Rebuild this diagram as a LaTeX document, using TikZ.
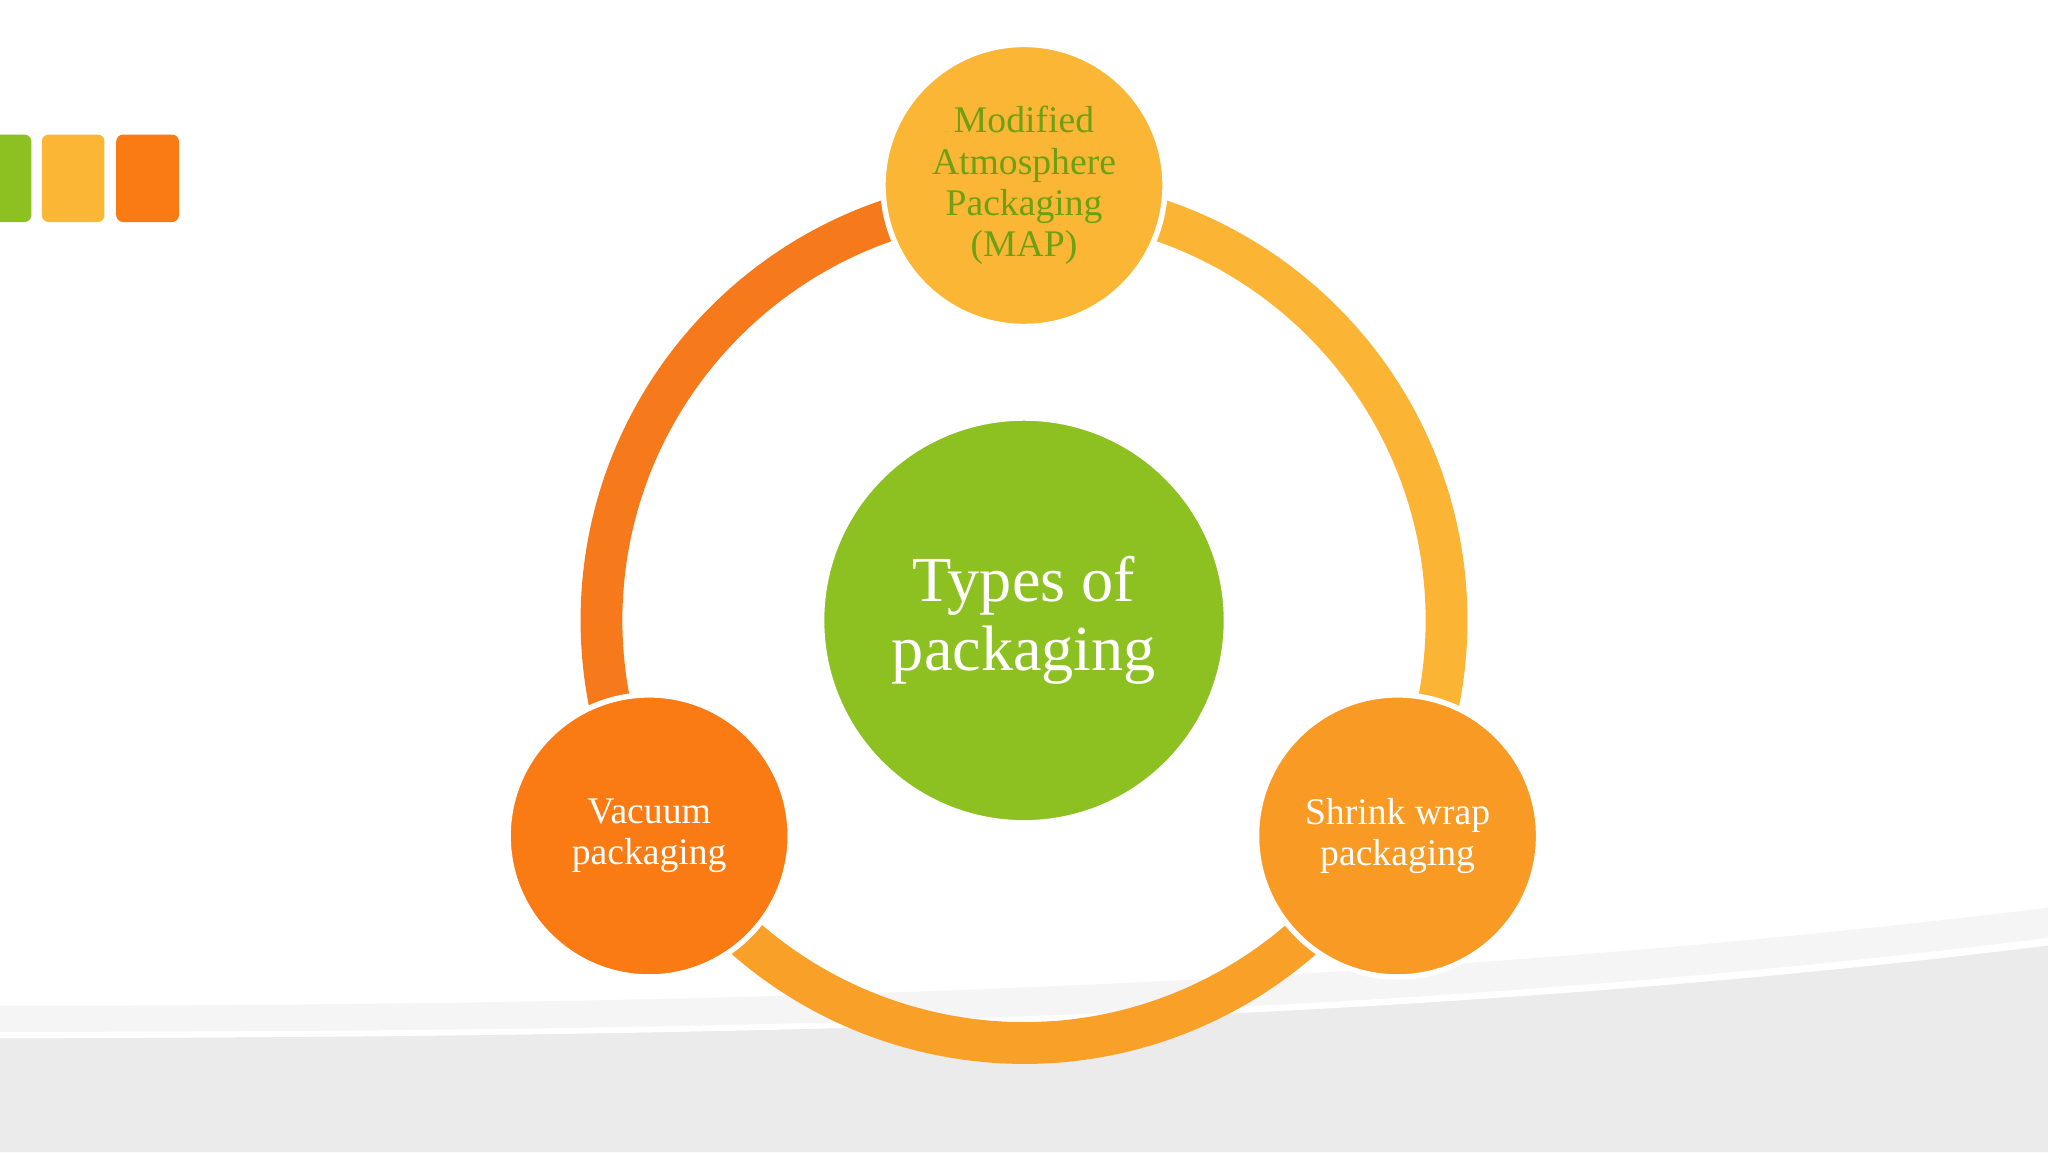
\documentclass[tikz,border=0pt]{standalone}
\usepackage{fontspec}
\setmainfont{Liberation Serif}
\begin{document}
\begin{tikzpicture}[x=1cm,y=1cm,
  bub/.style={circle,draw=white,line width=1.2pt,minimum size=2.16cm,inner sep=0pt,align=center,font=\fontsize{8.2pt}{9pt}\selectfont,text=white},
  sq/.style={rounded corners=1.5pt,inner sep=0pt}]
\useasboundingbox (0,0) rectangle (15.68,8.82);
\fill[white] (0,0) rectangle (15.68,8.82);
% background bands
\fill[gray!8] (0,1.12) .. controls (6,1.12) and (11,1.3) .. (15.68,1.87) -- (15.68,0) -- (0,0) -- cycle;
\fill[white] (0,0.92) .. controls (6,0.92) and (11,1.05) .. (15.68,1.64) -- (15.68,1.58) .. controls (11,1.0) and (6,0.88) .. (0,0.87) -- cycle;
\fill[gray!16] (0,0.87) .. controls (6,0.88) and (11,1.0) .. (15.68,1.58) -- (15.68,0) -- (0,0) -- cycle;
% squares
\fill[sq,fill={rgb,255:red,141;green,192;blue,33}] (-0.1,7.12) rectangle (0.24,7.79);
\fill[sq,fill={rgb,255:red,251;green,182;blue,53}] (0.32,7.12) rectangle (0.80,7.79);
\fill[sq,fill={rgb,255:red,250;green,122;blue,20}] (0.89,7.12) rectangle (1.37,7.79);
% ring
\coordinate (c) at (7.84,4.07);
\draw[line width=0.32cm,color={rgb,255:red,246;green,122;blue,28}] ([shift={(90:3.235)}]c) arc (90:210:3.235);
\draw[line width=0.32cm,color={rgb,255:red,251;green,180;blue,52}] ([shift={(90:3.235)}]c) arc (90:-30:3.235);
\draw[line width=0.32cm,color={rgb,255:red,249;green,160;blue,40}] ([shift={(210:3.235)}]c) arc (210:330:3.235);
% nodes
\node[circle,draw=white,line width=1.2pt,minimum size=3.1cm,inner sep=0pt,align=center,
  fill={rgb,255:red,141;green,192;blue,33},text=white,font=\fontsize{14pt}{15pt}\selectfont] (center) at (c) {Types of\\packaging};
\node[bub,fill={rgb,255:red,251;green,182;blue,53},text={rgb,255:red,110;green,160;blue,20}] (map) at (7.84,7.40) {Modified\\Atmosphere\\Packaging\\(MAP)};
\node[bub,fill={rgb,255:red,250;green,122;blue,20}] (vac) at (4.97,2.42) {Vacuum\\packaging};
\node[bub,fill={rgb,255:red,249;green,154;blue,36}] (shr) at (10.70,2.42) {Shrink wrap\\packaging};
\end{tikzpicture}
\end{document}
